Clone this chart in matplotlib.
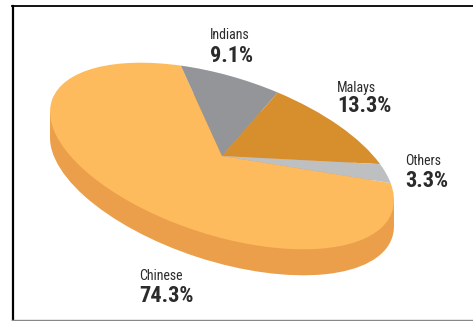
import numpy as np
import matplotlib
matplotlib.use("Agg")
import matplotlib.pyplot as plt
from matplotlib import font_manager as fm
from matplotlib.patches import Ellipse, Polygon
from matplotlib.transforms import Affine2D

# data
groups = ["Chinese", "Indians", "Malays", "Others"]
shares = [74.3, 9.1, 13.3, 3.3]
colors = ["#FDBB5E", "#939598", "#D78F2D", "#BDBFC1"]

side_color = "#EC9F4A"
text_color = "#2B2B2B"

# pie geometry in pixel units (y up)
cx, cy = 222, 165
a, b = 179, 79
tilt = -18
depth = 26

# label anchors (left edge, baseline of name, baseline of percent)
label_pos = [(139, 41, 19), (210, 282, 259), (337, 229, 209), (405, 156, 134)]

# narrow sans like the original, if one is around
installed = set(f.name for f in fm.fontManager.ttflist)
narrow = [f for f in ['Liberation Sans Narrow', 'Arial Narrow', 'Roboto Condensed',
                      'PT Sans Narrow', 'Archivo Narrow', 'Pragati Narrow',
                      'Open Sans Condensed'] if f in installed]
plt.rcParams['font.family'] = narrow[:1] + ['DejaVu Sans']

fig = plt.figure(figsize=(4.73, 3.21), dpi=100)
ax = fig.add_axes([0, 0, 1, 1])

# side of the disc: shifted ellipse + band between the x extremes
th = np.radians(tilt)
t0 = np.arctan2(-b * np.sin(th), a * np.cos(th))
ex = a * np.cos(t0) * np.cos(th) - b * np.sin(t0) * np.sin(th)
ey = a * np.cos(t0) * np.sin(th) + b * np.sin(t0) * np.cos(th)
ax.add_patch(Ellipse((cx, cy - depth), 2 * a, 2 * b, angle=tilt,
                     facecolor=side_color, edgecolor='none'))
ax.add_patch(Polygon([(cx + ex, cy + ey), (cx - ex, cy - ey),
                      (cx - ex, cy - ey - depth), (cx + ex, cy + ey - depth)],
                     closed=True, facecolor=side_color, edgecolor='none'))

# top of the disc
wedges, _ = ax.pie(shares, colors=colors, startangle=19.5, counterclock=False,
                   wedgeprops=dict(linewidth=0))
squash = Affine2D().scale(a, b).rotate_deg(tilt).translate(cx, cy) + ax.transData
for w in wedges:
    w.set_transform(squash)

for g, s, (lx, ny, py) in zip(groups, shares, label_pos):
    ax.text(lx, ny, g, fontsize=10, color=text_color, ha='left', va='baseline')
    ax.text(lx, py, f"{s}%", fontsize=16, fontweight='bold', color=text_color,
            ha='left', va='baseline')

# frame
ax.plot([13, 13], [0, 315], color='black', lw=1.6)
ax.plot([12, 473], [315, 315], color='black', lw=1.3)
ax.plot([12, 473], [1, 1], color='#888888', lw=1.0)

ax.set_xlim(0, 473)
ax.set_ylim(0, 321)
ax.set_aspect('auto')
ax.axis('off')

fig.savefig("out.png", dpi=100)
